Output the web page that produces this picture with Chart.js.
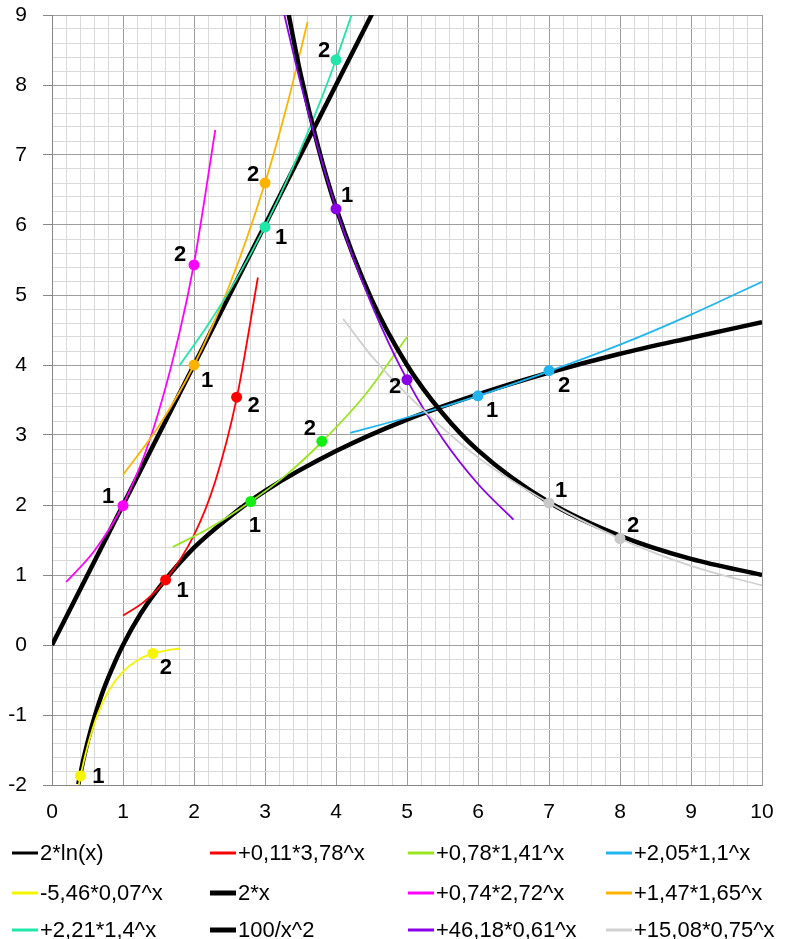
<!DOCTYPE html>
<html><head><meta charset="utf-8">
<script src="https://cdn.jsdelivr.net/npm/chart.js@4.4.1/dist/chart.umd.min.js"></script>
<style>html,body{margin:0;padding:0;background:#fff;} #wrap{width:790px;height:939px;position:relative;}</style>
</head><body><div id="wrap"><canvas id="c" width="790" height="939"></canvas></div>
<script>
// ---------- DATA ----------
const seriesLabels = ['2*ln(x)', '+0,11*3,78^x', '+0,78*1,41^x', '+2,05*1,1^x',
  '-5,46*0,07^x', '2*x', '+0,74*2,72^x', '+1,47*1,65^x',
  '+2,21*1,4^x', '100/x^2', '+46,18*0,61^x', '+15,08*0,75^x'];
const pointLabels = ['1', '2'];

const lnX = [0.37, 0.45, 0.55, 0.7, 0.85, 1, 1.25, 1.5, 2, 2.5, 3, 4, 5, 6, 7, 8, 9, 10];
const lnY = [-1.99, -1.60, -1.20, -0.71, -0.33, 0, 0.45, 0.81, 1.39, 1.83, 2.20, 2.77, 3.22, 3.58, 3.89, 4.16, 4.39, 4.61];
const redX = [1.0, 1.3, 1.6, 2.0, 2.3, 2.6, 2.9];
const redY = [0.42, 0.62, 0.93, 1.57, 2.34, 3.52, 5.25];
const greenX = [1.7, 2.2, 2.8, 3.3, 3.8, 4.4, 5.0];
const greenY = [1.40, 1.66, 2.05, 2.43, 2.90, 3.56, 4.40];
const blueX = [4.2, 5, 6, 7, 8, 9, 10];
const blueY = [3.03, 3.25, 3.56, 3.91, 4.29, 4.72, 5.19];
const yellowX = [0.37, 0.4, 0.5, 0.65, 0.8, 1.0, 1.2, 1.42, 1.6, 1.8];
const yellowY = [-2.04, -1.88, -1.45, -0.97, -0.65, -0.38, -0.22, -0.12, -0.08, -0.05];
const twoxX = [0, 4.6];
const twoxY = [0, 9.2];
const magentaX = [0.2, 0.6, 1.0, 1.4, 1.8, 2.0, 2.3];
const magentaY = [0.90, 1.35, 2.0, 3.0, 4.48, 5.45, 7.36];
const orangeX = [1.0, 1.5, 2.0, 2.5, 3.0, 3.3, 3.6];
const orangeY = [2.43, 3.12, 4.0, 5.14, 6.6, 7.67, 8.9];
const tealX = [1.8, 2.2, 2.6, 3.0, 3.4, 3.8, 4.0, 4.3];
const tealY = [4.0, 4.58, 5.23, 5.98, 6.84, 7.82, 8.36, 9.24];
const invSqX = [3.3, 3.5, 3.75, 4, 4.5, 5, 5.5, 6, 7, 8, 9, 10];
const invSqY = [9.18, 8.16, 7.11, 6.25, 4.94, 4.0, 3.31, 2.78, 2.04, 1.56, 1.23, 1.0];
const purpleX = [3.25, 3.5, 4.0, 4.5, 5.0, 5.5, 6.0, 6.5];
const purpleY = [9.10, 8.03, 6.24, 4.87, 3.79, 2.95, 2.30, 1.79];
const grayX = [4.1, 4.5, 5, 6, 7, 8, 9, 10];
const grayY = [4.66, 4.13, 3.58, 2.68, 2.03, 1.52, 1.13, 0.85];

// marked points (1, 2)
const redPtX = [1.6, 2.6], redPtY = [0.93, 3.54];
const greenPtX = [2.8, 3.8], greenPtY = [2.05, 2.91];
const bluePtX = [6, 7], bluePtY = [3.56, 3.92];
const yellowPtX = [0.4, 1.42], yellowPtY = [-1.87, -0.12];
const magentaPtX = [1, 2], magentaPtY = [1.99, 5.43];
const orangePtX = [2, 3], orangePtY = [4.0, 6.6];
const tealPtX = [3, 4], tealPtY = [5.97, 8.36];
const purplePtX = [4, 5], purplePtY = [6.23, 3.79];
const grayPtX = [7, 8], grayPtY = [2.03, 1.52];

// ---------- STYLE ----------
const curveXs = [lnX, redX, greenX, blueX, yellowX, twoxX, magentaX, orangeX, tealX, invSqX, purpleX, grayX];
const curveYs = [lnY, redY, greenY, blueY, yellowY, twoxY, magentaY, orangeY, tealY, invSqY, purpleY, grayY];
const colors = ['#000000', '#ff0000', '#99e620', '#21b5f0', '#f5f500', '#000000', '#ff00ff', '#ffb300', '#20e6a8', '#000000', '#8b00e6', '#d0d0d0'];
const lineWidths = [4.5, 1.8, 1.8, 1.8, 1.8, 4.5, 1.8, 1.8, 1.8, 4.5, 1.8, 1.8];
const legendWidths = [3, 3, 3, 3, 3, 5, 3, 3, 3, 5, 3, 3];
const pointSets = [
  {s: 1, x: redPtX, y: redPtY, c: '#ff0000', off: [[17, 10], [17, 8]]},
  {s: 2, x: greenPtX, y: greenPtY, c: '#11ee11', off: [[4, 23], [-12, -13]]},
  {s: 3, x: bluePtX, y: bluePtY, c: '#21b5f0', off: [[14, 14], [15, 14]]},
  {s: 4, x: yellowPtX, y: yellowPtY, c: '#f5f500', off: [[18, 0], [13, 14]]},
  {s: 6, x: magentaPtX, y: magentaPtY, c: '#ff00ff', off: [[-15, -10], [-14, -11]]},
  {s: 7, x: orangePtX, y: orangePtY, c: '#ffb300', off: [[13, 15], [-12, -9]]},
  {s: 8, x: tealPtX, y: tealPtY, c: '#20e6a8', off: [[16, 10], [-12, -10]]},
  {s: 10, x: purplePtX, y: purplePtY, c: '#8b00e6', off: [[11, -14], [-12, 6]]},
  {s: 11, x: grayPtX, y: grayPtY, c: '#c8c8c8', off: [[12, -13], [13, -14]]}
];
const FONT = "'Liberation Sans', Arial, sans-serif";

const datasets = [];
curveXs.forEach((xs, i) => {
  datasets.push({
    label: seriesLabels[i],
    data: xs.map((x, k) => ({x: x, y: curveYs[i][k]})),
    showLine: true,
    borderColor: colors[i],
    backgroundColor: colors[i],
    borderWidth: lineWidths[i],
    pointRadius: 0,
    pointHoverRadius: 0,
    cubicInterpolationMode: 'monotone',
    order: 100 - i,
    borderCapStyle: 'butt'
  });
});
pointSets.forEach(p => {
  datasets.push({
    label: '__pts',
    data: p.x.map((x, k) => ({x: x, y: p.y[k]})),
    showLine: false,
    pointRadius: 5.5,
    pointBorderWidth: 0,
    pointBackgroundColor: p.c,
    pointBorderColor: p.c,
    order: 0,
    _offsets: p.off
  });
});

const isInt = v => Math.abs(v - Math.round(v)) < 1e-6;

const labelPlugin = {
  id: 'ptLabels',
  afterDatasetsDraw(chart) {
    const ctx = chart.ctx;
    ctx.save();
    ctx.font = 'bold 22px ' + FONT;
    ctx.fillStyle = '#000';
    ctx.textAlign = 'center';
    ctx.textBaseline = 'middle';
    chart.data.datasets.forEach((ds, i) => {
      if (!ds._offsets) return;
      const meta = chart.getDatasetMeta(i);
      meta.data.forEach((el, k) => {
        const o = ds._offsets[k];
        ctx.fillText(pointLabels[k], el.x + o[0], el.y + o[1] + 1);
      });
    });
    ctx.restore();
  }
};

const legendPlugin = {
  id: 'gridLegend',
  afterDraw(chart) {
    const ctx = chart.ctx;
    const colX = [12, 210, 408, 606];
    const rowY = [853, 893, 930];
    ctx.save();
    ctx.font = '22px ' + FONT;
    ctx.textAlign = 'left';
    ctx.textBaseline = 'middle';
    seriesLabels.forEach((lab, i) => {
      const cx = colX[i % 4], cy = rowY[Math.floor(i / 4)];
      ctx.strokeStyle = colors[i];
      ctx.lineWidth = legendWidths[i];
      ctx.beginPath();
      ctx.moveTo(cx, cy);
      ctx.lineTo(cx + 26, cy);
      ctx.stroke();
      ctx.fillStyle = '#000';
      ctx.fillText(lab, cx + 28, cy + 1);
    });
    ctx.restore();
  }
};

new Chart(document.getElementById('c'), {
  type: 'scatter',
  data: {datasets: datasets},
  options: {
    responsive: false,
    animation: false,
    events: [],
    layout: {padding: {left: 0, right: 28, top: 15, bottom: 114}},
    plugins: {legend: {display: false}, tooltip: {enabled: false}, title: {display: false}},
    scales: {
      x: {
        type: 'linear', min: 0, max: 10,
        afterFit(s) { s.height = 40; s.paddingLeft = 0; s.paddingRight = 0; },
        ticks: {
          stepSize: 0.2, autoSkip: false, maxRotation: 0, maxTicksLimit: 200,
          padding: 15, color: '#000', font: {family: FONT, size: 21},
          callback: v => isInt(v) ? String(Math.round(v)) : ''
        },
        grid: {
          drawTicks: false,
          color: c => isInt(c.tick.value) ? '#9d9d9d' : '#d9d9d9',
          lineWidth: 1
        },
        border: {color: '#868686', width: 1}
      },
      y: {
        type: 'linear', min: -2, max: 9,
        afterFit(s) { s.width = 52; s.paddingTop = 0; s.paddingBottom = 0; },
        ticks: {
          stepSize: 0.2, autoSkip: false, maxTicksLimit: 200,
          padding: 16, color: '#000', font: {family: FONT, size: 21},
          callback: v => isInt(v) ? String(Math.round(v)) : ''
        },
        grid: {
          drawTicks: true, tickLength: 9,
          color: c => isInt(c.tick.value) ? '#9d9d9d' : '#d9d9d9',
          tickColor: c => isInt(c.tick.value) ? '#868686' : 'rgba(0,0,0,0)',
          lineWidth: 1
        },
        border: {color: '#868686', width: 1}
      }
    }
  },
  plugins: [labelPlugin, legendPlugin]
});
</script>
</body></html>
